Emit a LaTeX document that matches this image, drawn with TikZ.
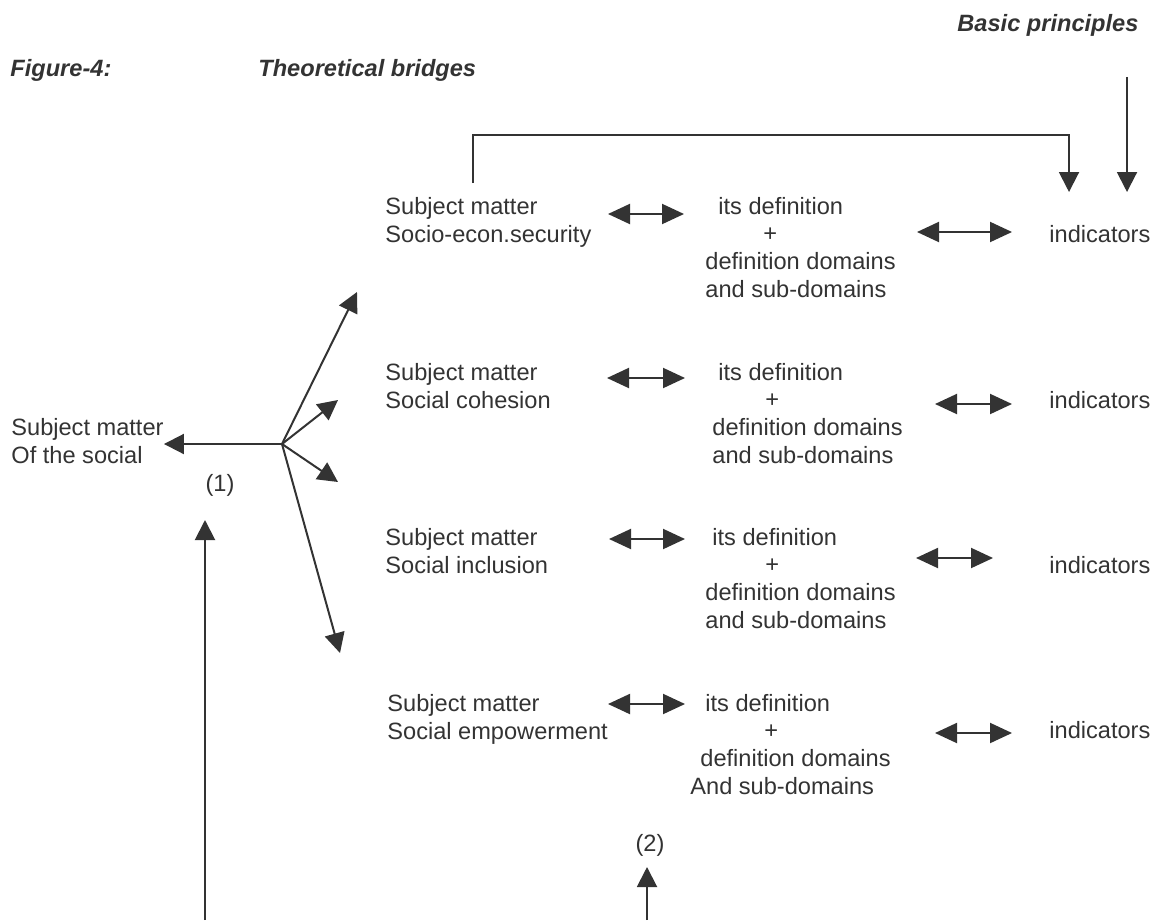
\documentclass[tikz,border=0pt]{standalone}
\usepackage{fontspec}
\setmainfont{Liberation Sans}
\usetikzlibrary{arrows.meta}
\definecolor{ink}{HTML}{333333}
\tikzset{
  lbl/.style={anchor=base west, inner sep=0pt, align=left, text=ink},
  head/.style={lbl, font=\fontsize{11.8}{13.8}\selectfont\bfseries\itshape},
  arr/.style={draw=ink, line width=1pt, -{Triangle[length=10pt,width=10pt]}},
  dbl/.style={draw=ink, line width=1pt, {Triangle[length=11pt,width=10pt]}-{Triangle[length=11pt,width=10pt]}}
}
\begin{document}
\begin{tikzpicture}[x=0.5pt, y=-0.5pt, font=\fontsize{11.8}{13.8}\selectfont]
    \useasboundingbox (0,0) rectangle (1154,920);
    \node[head] (fig) at (10,76) {Figure-4:};
    \node[head] (title) at (258,76) {Theoretical bridges};
    \node[head] (basic) at (957,32) {Basic principles};
    \node[lbl] (social) at (11,463) {Subject matter\\Of the social};
    \node[lbl] (sm1) at (385,242) {Subject matter\\Socio-econ.security};
    \node[lbl] (sm2) at (385,408) {Subject matter\\Social cohesion};
    \node[lbl] (sm3) at (385,573) {Subject matter\\Social inclusion};
    \node[lbl] (sm4) at (387,739) {Subject matter\\Social empowerment};
    \node[lbl] (def1) at (705,297) {\hspace*{6.5pt}its definition\\\hspace*{29pt}+\\definition domains\\and sub-domains};
    \node[lbl] (def2) at (712,463) {\hspace*{3pt}its definition\\\hspace*{26.5pt}+\\definition domains\\and sub-domains};
    \node[lbl] (def3) at (705,628) {\hspace*{3.5pt}its definition\\\hspace*{30pt}+\\definition domains\\and sub-domains};
    \node[lbl] (def4) at (690,794) {\hspace*{7.5pt}its definition\\\hspace*{37pt}+\\\hspace*{5pt}definition domains\\And sub-domains};
    \node[lbl] (ind1) at (1049,242) {indicators};
    \node[lbl] (ind2) at (1049,408) {indicators};
    \node[lbl] (ind3) at (1049,573) {indicators};
    \node[lbl] (ind4) at (1049,738) {indicators};
    \node[inner sep=0pt, text=ink] (one) at (220,485) {(1)};
    \node[inner sep=0pt, text=ink] (two) at (650,845) {(2)};
    \coordinate (hub) at (282,444);
    \coordinate (stub) at (473,183);
    \coordinate (bp) at (1127,77);
    \coordinate (up1) at (205,920);
    \coordinate (up2) at (647,920);
    \coordinate (l1) at (608,214);
    \coordinate (l2) at (607,378);
    \coordinate (l3) at (609,539);
    \coordinate (l4) at (608,704);
    \coordinate (r1) at (917,232);
    \coordinate (r2) at (935,404);
    \coordinate (r3) at (916,558);
    \coordinate (r4) at (935,733);
    \draw[arr] (stub) -- ++(0,-48) -- ++(596,0) -- ++(0,57);
    \draw[arr] (bp) -- ++(0,115);
    \draw[arr] (hub) -- (hub -| social.east);
    \draw[arr] (hub) -- (357,292);
    \draw[arr] (hub) -- (338,400);
    \draw[arr] (hub) -- (338,482);
    \draw[arr] (hub) -- (340,653);
    \draw[dbl] (l1) -- ++(76,0);
    \draw[dbl] (l2) -- ++(78,0);
    \draw[dbl] (l3) -- ++(76,0);
    \draw[dbl] (l4) -- ++(77,0);
    \draw[dbl] (r1) -- ++(95,0);
    \draw[dbl] (r2) -- ++(77,0);
    \draw[dbl] (r3) -- ++(77,0);
    \draw[dbl] (r4) -- ++(77,0);
    \draw[arr] (up1) -- ++(0,-400);
    \draw[arr] (up2) -- ++(0,-53);
\end{tikzpicture}
\end{document}
